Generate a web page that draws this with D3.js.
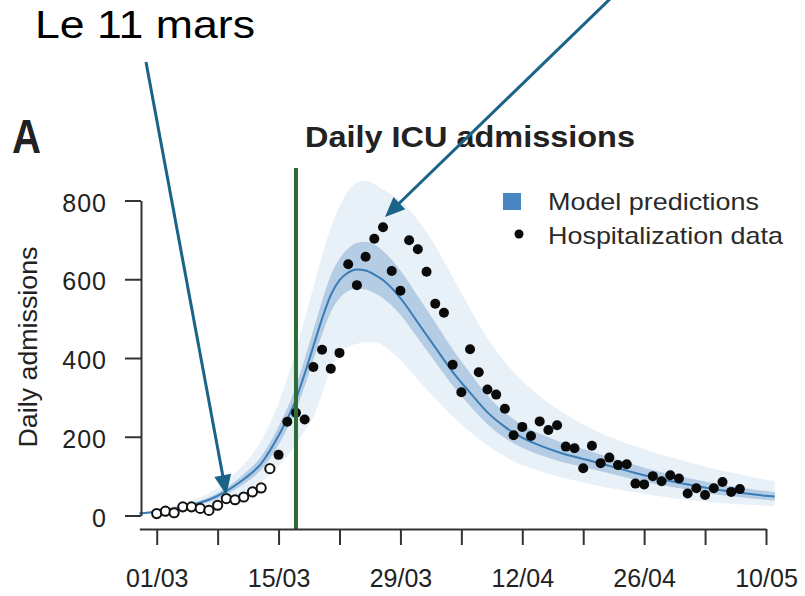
<!DOCTYPE html>
<html>
<head>
<meta charset="utf-8">
<script src="https://cdn.jsdelivr.net/npm/d3@7"></script>
<style>
  html, body { margin: 0; padding: 0; background: #fff; }
  svg { display: block; }
  text { font-family: "Liberation Sans", Arial, Helvetica, sans-serif; }
</style>
</head>
<body>
<svg id="chart" width="805" height="596"></svg>
<script>
// ---- Observed daily ICU admissions ----
// Early days, drawn as open circles
const openDates = ["2020-03-01","2020-03-02","2020-03-03","2020-03-04","2020-03-05","2020-03-06","2020-03-07",
  "2020-03-08","2020-03-09","2020-03-10","2020-03-11","2020-03-12","2020-03-13","2020-03-14"];
const openValues = [5, 11, 7, 22, 22, 18, 13, 26, 43, 40, 47, 60, 70, 119];

// Later days, drawn as filled dots
const dataDates = ["2020-03-15","2020-03-16","2020-03-17","2020-03-18","2020-03-19","2020-03-20","2020-03-21",
  "2020-03-22","2020-03-23","2020-03-24","2020-03-25","2020-03-26","2020-03-27","2020-03-28","2020-03-29",
  "2020-03-30","2020-03-31","2020-04-01","2020-04-02","2020-04-03","2020-04-04","2020-04-05","2020-04-06",
  "2020-04-07","2020-04-08","2020-04-09","2020-04-10","2020-04-11","2020-04-12","2020-04-13","2020-04-14",
  "2020-04-15","2020-04-16","2020-04-17","2020-04-18","2020-04-19","2020-04-20","2020-04-21","2020-04-22",
  "2020-04-23","2020-04-24","2020-04-25","2020-04-26","2020-04-27","2020-04-28","2020-04-29","2020-04-30",
  "2020-05-01","2020-05-02","2020-05-03","2020-05-04","2020-05-05","2020-05-06","2020-05-07"];
const dataValues = [154, 238, 261, 244, 377, 421, 373, 413, 638, 585, 657, 703, 732, 621, 571,
  699, 676, 619, 538, 515, 383, 313, 422, 364, 320, 307, 271, 204, 225, 202, 239,
  217, 229, 175, 171, 120, 177, 133, 147, 128, 130, 81, 79, 100, 87, 102, 94,
  56, 69, 52, 69, 85, 60, 67];

// ---- Model predictions: median with 50% and 95% bands ----
const modelDates = ["2020-02-28","2020-03-01","2020-03-03","2020-03-05","2020-03-07","2020-03-09","2020-03-11",
  "2020-03-13","2020-03-15","2020-03-17","2020-03-18","2020-03-19","2020-03-20","2020-03-21","2020-03-22",
  "2020-03-23","2020-03-24","2020-03-25","2020-03-26","2020-03-27","2020-03-29","2020-03-31","2020-04-02",
  "2020-04-04","2020-04-06","2020-04-08","2020-04-10","2020-04-12","2020-04-14","2020-04-16","2020-04-18",
  "2020-04-20","2020-04-22","2020-04-24","2020-04-26","2020-04-28","2020-04-30","2020-05-02","2020-05-04",
  "2020-05-06","2020-05-08","2020-05-10","2020-05-11"];
const modelMedian = [5, 10, 18, 27, 40, 62, 92, 132, 203, 295, 360, 430, 500, 560, 598,
  617, 625, 622, 612, 598, 552, 490, 427, 365, 312, 262, 225, 198, 178, 162, 149,
  138, 126, 114, 102, 92, 83, 75, 67, 61, 55, 50, 48];
const innerLow = [4, 8, 15, 23, 34, 53, 80, 116, 180, 268, 328, 395, 460, 517, 552,
  570, 576, 574, 565, 552, 510, 450, 390, 330, 278, 232, 197, 172, 154, 140, 128,
  118, 107, 96, 86, 77, 69, 61, 54, 49, 44, 40, 38];
const innerHigh = [6, 12, 21, 31, 46, 71, 105, 150, 226, 328, 398, 472, 545, 610, 652,
  678, 692, 695, 688, 672, 622, 557, 490, 422, 362, 305, 262, 230, 208, 190, 175,
  162, 148, 135, 121, 110, 100, 91, 82, 75, 68, 62, 60];
const outerLow = [3, 6, 11, 17, 25, 38, 58, 85, 125, 180, 215, 250, 310, 372, 410,
  428, 436, 440, 440, 432, 395, 345, 297, 252, 213, 178, 150, 128, 113, 100, 89,
  79, 70, 62, 55, 48, 42, 37, 33, 30, 27, 25, 24];
const outerHigh = [7, 14, 25, 38, 57, 88, 130, 190, 285, 420, 500, 580, 660, 730, 785,
  825, 846, 850, 842, 828, 800, 750, 685, 605, 525, 450, 390, 342, 303, 271, 243,
  220, 200, 183, 168, 154, 142, 130, 119, 109, 100, 91, 88];

// ---- Axes ----
const weekTicks = ["2020-03-01","2020-03-08","2020-03-15","2020-03-22","2020-03-29","2020-04-05",
  "2020-04-12","2020-04-19","2020-04-26","2020-05-03","2020-05-10"];
const weekLabels = ["01/03","","15/03","","29/03","","12/04","","26/04","","10/05"];
const yTicks = [0, 200, 400, 600, 800];

// Start of the national lockdown
const lockdownDate = "2020-03-17";

// ---- Text ----
const panelLetter = "A";
const titleText = "Daily ICU admissions";
const yLabelText = "Daily admissions";
const legendLabels = ["Model predictions", "Hospitalization data"];
const noteText = "Le 11 mars";
const noteTip = { date: "2020-03-09", value: 52 };
const peakTip = { date: "2020-03-27", value: 758 };

const parse = d3.utcParse("%Y-%m-%d");
const svg = d3.select("#chart");

const x = d3.scaleUtc()
  .domain([parse("2020-02-28"), parse("2020-05-10")])
  .range([139.3, 766]);
const y = d3.scaleLinear().domain([0, 800]).range([515.5, 200.5]);

const model = modelDates.map((d, i) => ({
  date: parse(d), med: modelMedian[i],
  il: innerLow[i], ih: innerHigh[i], ol: outerLow[i], oh: outerHigh[i]
}));

const curve = d3.curveMonotoneX;
const band = (lo, hi) => d3.area().curve(curve)
  .x(d => x(d.date)).y0(d => y(d[lo])).y1(d => y(d[hi]));

// Bands and median
svg.append("path").datum(model).attr("d", band("ol", "oh")).attr("fill", "#e8f0f8");
svg.append("path").datum(model).attr("d", band("il", "ih")).attr("fill", "#b5cde4");
svg.append("path").datum(model)
  .attr("d", d3.line().curve(curve).x(d => x(d.date)).y(d => y(d.med)))
  .attr("fill", "none").attr("stroke", "#3a7db6").attr("stroke-width", 2);

// Observed points
svg.append("g").selectAll("circle").data(openDates.map((d, i) => [parse(d), openValues[i]]))
  .join("circle")
  .attr("cx", d => x(d[0])).attr("cy", d => y(d[1])).attr("r", 4.6)
  .attr("fill", "#fff").attr("stroke", "#111").attr("stroke-width", 2);
svg.append("g").selectAll("circle").data(dataDates.map((d, i) => [parse(d), dataValues[i]]))
  .join("circle")
  .attr("cx", d => x(d[0])).attr("cy", d => y(d[1])).attr("r", 5)
  .attr("fill", "#0a0a0a");

// Lockdown marker
svg.append("line")
  .attr("x1", x(parse(lockdownDate))).attr("x2", x(parse(lockdownDate)))
  .attr("y1", 168).attr("y2", 529)
  .attr("stroke", "#2f6b37").attr("stroke-width", 4);

// X axis
const xAxis = d3.axisBottom(x)
  .tickValues(weekTicks.map(parse))
  .tickFormat((d, i) => weekLabels[i])
  .tickSize(16).tickSizeOuter(0).tickPadding(24.5);
const gx = svg.append("g").attr("transform", "translate(0,529)").call(xAxis);
gx.select(".domain").attr("stroke", "#333").attr("stroke-width", 2);
gx.selectAll(".tick line").attr("stroke", "#333").attr("stroke-width", 2);
gx.selectAll(".tick text").attr("font-size", 25).attr("fill", "#222")
  .attr("font-family", "'Liberation Sans', Arial, sans-serif");

// Y axis
const yAxis = d3.axisLeft(y).tickValues(yTicks).tickSize(16).tickSizeOuter(0).tickPadding(18);
const gy = svg.append("g").attr("transform", "translate(141,0)").call(yAxis);
gy.select(".domain").attr("stroke", "#333").attr("stroke-width", 2);
gy.selectAll(".tick line").attr("stroke", "#333").attr("stroke-width", 2);
gy.selectAll(".tick text").attr("font-size", 25).attr("fill", "#222").attr("dy", "0.42em")
  .attr("letter-spacing", 1)
  .attr("font-family", "'Liberation Sans', Arial, sans-serif");

// Y label
svg.append("text")
  .attr("transform", "translate(36.5,347) rotate(-90)")
  .attr("text-anchor", "middle").attr("font-size", 25).attr("fill", "#222")
  .attr("textLength", 201).attr("lengthAdjust", "spacingAndGlyphs")
  .text(yLabelText);

// Title and panel letter
svg.append("text").attr("x", 305).attr("y", 147)
  .attr("font-size", 29).attr("font-weight", "bold").attr("fill", "#222")
  .attr("textLength", 330).attr("lengthAdjust", "spacingAndGlyphs")
  .text(titleText);
svg.append("text").attr("x", 12).attr("y", 153)
  .attr("font-size", 48).attr("font-weight", "bold").attr("fill", "#222")
  .attr("textLength", 29).attr("lengthAdjust", "spacingAndGlyphs")
  .text(panelLetter);

// Legend
const legend = svg.append("g");
legend.append("rect").attr("x", 503).attr("y", 193).attr("width", 18).attr("height", 17)
  .attr("fill", "#4a87c2");
legend.append("circle").attr("cx", 519).attr("cy", 234).attr("r", 4.5).attr("fill", "#0a0a0a");
legend.append("text").attr("x", 548).attr("y", 210).attr("font-size", 24).attr("fill", "#2a2a2a")
  .attr("textLength", 211).attr("lengthAdjust", "spacingAndGlyphs").text(legendLabels[0]);
legend.append("text").attr("x", 548).attr("y", 243.5).attr("font-size", 24).attr("fill", "#2a2a2a")
  .attr("textLength", 235).attr("lengthAdjust", "spacingAndGlyphs").text(legendLabels[1]);

// Annotation
svg.append("text").attr("x", 35).attr("y", 38).attr("font-size", 39).attr("fill", "#000")
  .attr("textLength", 220).attr("lengthAdjust", "spacingAndGlyphs").text(noteText);

const arrowColor = "#1b6387";
function arrow(x0, y0, x1, y1) {
  const ang = Math.atan2(y1 - y0, x1 - x0);
  const len = 20, half = 8.5;
  const bx = x1 - len * Math.cos(ang), by = y1 - len * Math.sin(ang);
  svg.append("line").attr("x1", x0).attr("y1", y0).attr("x2", bx + 2 * Math.cos(ang)).attr("y2", by + 2 * Math.sin(ang))
    .attr("stroke", arrowColor).attr("stroke-width", 3);
  const px = -Math.sin(ang) * half, py = Math.cos(ang) * half;
  svg.append("path")
    .attr("d", `M${x1},${y1}L${bx + px},${by + py}L${bx - px},${by - py}Z`)
    .attr("fill", arrowColor);
}
arrow(146, 62, x(parse(noteTip.date)), y(noteTip.value));
arrow(612, -3, x(parse(peakTip.date)) + 2, y(peakTip.value));
</script>
</body>
</html>
